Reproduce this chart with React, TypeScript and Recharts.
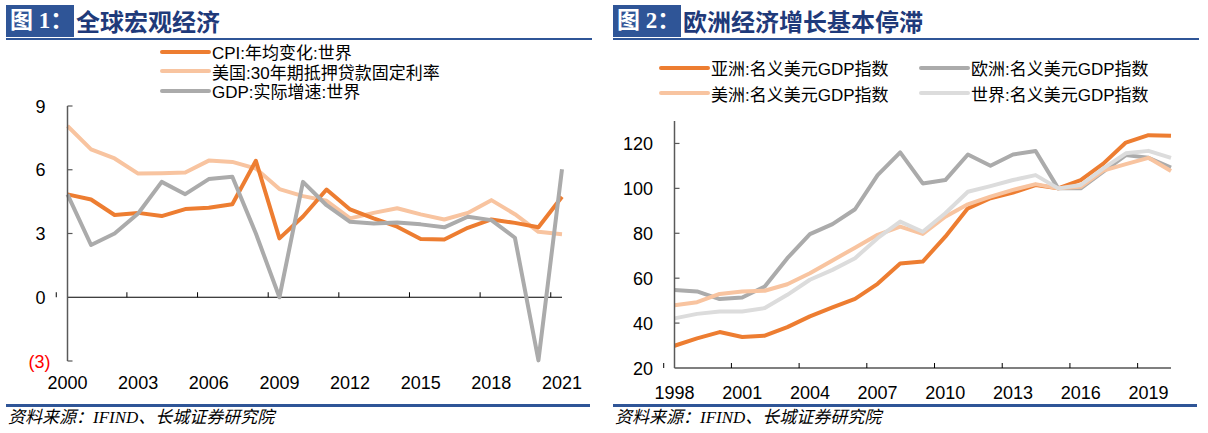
import React from 'react'
import { LineChart, Line, XAxis, YAxis, ReferenceLine, Legend } from 'recharts'

// 图1 全球宏观经济
const years1 = [
  '2000', '2001', '2002', '2003', '2004', '2005', '2006', '2007', '2008', '2009', '2010',
  '2011', '2012', '2013', '2014', '2015', '2016', '2017', '2018', '2019', '2020', '2021',
]
const cpiWorld = [4.84, 4.6, 3.87, 3.97, 3.82, 4.15, 4.21, 4.38, 6.42, 2.77, 3.8, 5.07, 4.13, 3.71, 3.32, 2.74, 2.72, 3.27, 3.66, 3.5, 3.29, 4.73]
const mortgage30 = [8.06, 6.96, 6.53, 5.82, 5.84, 5.87, 6.43, 6.37, 6.06, 5.09, 4.76, 4.54, 3.71, 3.97, 4.19, 3.9, 3.66, 3.97, 4.57, 3.91, 3.08, 2.97]
const gdpWorld = [4.84, 2.46, 3.0, 3.94, 5.43, 4.85, 5.56, 5.67, 3.0, 0, 5.43, 4.33, 3.55, 3.47, 3.52, 3.43, 3.29, 3.79, 3.63, 2.8, -2.97, 6.02]
const yTicks1 = [-3, 0, 3, 6, 9]

// 图2 欧洲经济增长基本停滞
const years2 = [
  '1998', '1999', '2000', '2001', '2002', '2003', '2004', '2005', '2006', '2007', '2008', '2009',
  '2010', '2011', '2012', '2013', '2014', '2015', '2016', '2017', '2018', '2019', '2020',
]
const asiaGdp = [29.9, 33.2, 36.0, 33.8, 34.4, 38.2, 43.0, 47.0, 50.8, 57.5, 66.5, 67.4, 78.5, 91.1, 95.6, 98.1, 101.5, 100, 103.7, 111, 120.4, 123.7, 123.4]
const europeGdp = [54.7, 54.1, 50.7, 51.4, 56.3, 68.9, 79.6, 84.1, 90.7, 105.9, 116, 102.2, 103.7, 115.1, 110.1, 115.1, 116.6, 100, 100, 107.4, 114.8, 113.6, 109.3]
const americaGdp = [47.9, 49.3, 53, 54.1, 54.4, 57.3, 62.2, 67.9, 73.6, 79.3, 83, 79.7, 87.4, 92.9, 96.3, 99.3, 101.9, 100, 100.7, 107.9, 110.8, 113.6, 107.7]
const worldGdp = [42.1, 44.1, 45.2, 45.2, 46.7, 52.6, 59.3, 63.7, 68.9, 77.8, 85.2, 80.7, 88.9, 98.5, 101, 103.7, 105.9, 100, 101.5, 108.9, 115.6, 116.7, 113.6]
const yTicks2 = [20, 40, 60, 80, 100, 120]

const ORANGE = '#ED7D31'
const PEACH = '#F8C4A0'
const GRAY = '#ABABAB'
const LIGHT = '#DCDCDC'
const BLUE = '#2F5597'
const NAVY = '#1F3A7A'
const AXIS = '#595959'

const FONT = "'Liberation Sans', Arial, 'Noto Sans CJK SC', sans-serif"
const SERIF = "'Liberation Serif', 'Times New Roman', 'Noto Sans CJK SC', serif"

const data1 = years1.map((year, i) => ({
  year,
  cpi: cpiWorld[i],
  mortgage: mortgage30[i],
  gdp: gdpWorld[i],
}))

const data2 = years2.map((year, i) => ({
  year,
  asia: asiaGdp[i],
  europe: europeGdp[i],
  america: americaGdp[i],
  world: worldGdp[i],
}))

const legend1 = [
  { name: 'CPI:年均变化:世界', color: ORANGE },
  { name: '美国:30年期抵押贷款固定利率', color: PEACH },
  { name: 'GDP:实际增速:世界', color: GRAY },
]
const legend2 = [
  { name: '亚洲:名义美元GDP指数', color: ORANGE },
  { name: '欧洲:名义美元GDP指数', color: GRAY },
  { name: '美洲:名义美元GDP指数', color: PEACH },
  { name: '世界:名义美元GDP指数', color: LIGHT },
]

// plot geometry of the two charts
const C1 = { w: 600, h: 433, top: 106, bottom: 72, left: 67.5, right: 38 }
const C2 = { w: 603, h: 433, top: 121, bottom: 65, left: 69.5, right: 37 }
const zeroY1 = C1.h - C1.bottom - ((0 - yTicks1[0]) / (yTicks1[4] - yTicks1[0])) * (C1.h - C1.top - C1.bottom)

function LegendRows({ items, columns, rowH, colW }: { items: { name: string; color: string }[]; columns: number; rowH: number; colW: number }) {
  return (
    <div style={{ display: 'grid', gridTemplateColumns: `repeat(${columns}, ${colW}px)`, fontFamily: FONT, fontSize: 17, color: '#000' }}>
      {items.map((it) => (
        <div key={it.name} style={{ display: 'flex', alignItems: 'center', height: rowH, whiteSpace: 'nowrap' }}>
          <svg width={51} height={8} style={{ flex: 'none' }}>
            <line x1={2} x2={49} y1={4} y2={4} stroke={it.color} strokeWidth={4} strokeLinecap="round" />
          </svg>
          <span style={{ marginLeft: 1 }}>{it.name}</span>
        </div>
      ))}
    </div>
  )
}

function makeXTick(markY: number, labelDy: number, band: number) {
  return function XTick(props: any) {
    const { x, y, payload } = props
    const half = payload && typeof payload.offset === 'number' && payload.offset > 0 ? payload.offset : band / 2
    const tx = x - half
    const baseY = markY < 0 ? y : markY
    return (
      <g>
        <line x1={tx} x2={tx} y1={baseY} y2={baseY - 5} stroke="#000" strokeWidth={1} />
        <text x={x} y={y + labelDy} textAnchor="middle" fontSize={18} fontFamily={FONT} fill="#000">
          {payload.value}
        </text>
      </g>
    )
  }
}

function LeftYTick(props: any) {
  const { x, y, payload } = props
  const v = payload.value as number
  const neg = v < 0
  return (
    <g>
      {v !== 0 && <line x1={x} x2={x + 5} y1={y} y2={y} stroke={AXIS} strokeWidth={1.2} />}
      <text x={x - (neg ? 17 : 22)} y={y + 6.5} textAnchor="end" fontSize={18} fontFamily={FONT} fill={neg ? '#FF0000' : '#000'}>
        {neg ? `(${-v})` : v}
      </text>
    </g>
  )
}

function RightYTick(props: any) {
  const { x, y, payload } = props
  return (
    <g>
      {payload.value !== yTicks2[0] && <line x1={x} x2={x + 5} y1={y} y2={y} stroke={AXIS} strokeWidth={1.2} />}
      <text x={x - 21.5} y={y + 6.5} textAnchor="end" fontSize={18} fontFamily={FONT} fill="#000">
        {payload.value}
      </text>
    </g>
  )
}

function TitleBar({ left, num, title }: { left: number; num: string; title: string }) {
  return (
    <>
      <div
        style={{
          position: 'absolute', left, top: 5, width: 68, height: 32, background: BLUE, color: '#fff',
          fontFamily: SERIF, fontWeight: 700, fontSize: 23, lineHeight: '32px', paddingLeft: 4, boxSizing: 'border-box',
        }}
      >
        {num}
      </div>
      <div
        style={{
          position: 'absolute', left: left + 70, top: 5, height: 32, color: NAVY,
          fontFamily: "'Noto Sans CJK SC', sans-serif", fontWeight: 700, fontSize: 24, lineHeight: '32px', whiteSpace: 'nowrap',
        }}
      >
        {title}
      </div>
      <div style={{ position: 'absolute', left, top: 38, width: 586, height: 2, background: BLUE }} />
      <div style={{ position: 'absolute', left, top: 404, width: 584, height: 3, background: BLUE }} />
      <div
        style={{
          position: 'absolute', left: left + 2, top: 408, fontFamily: SERIF, fontStyle: 'italic', fontSize: 17,
          lineHeight: '20px', color: '#000', whiteSpace: 'nowrap',
        }}
      >
        资料来源：IFIND、长城证券研究院
      </div>
    </>
  )
}

const band1 = (C1.w - C1.left - C1.right) / years1.length
const band2 = (C2.w - C2.left - C2.right) / years2.length
const XTick1 = makeXTick(zeroY1, 27.5, band1)
const XTick2 = makeXTick(-1, 30.5, band2)

export default function App() {
  return (
    <div style={{ position: 'absolute', left: 0, top: 0, width: 1208, height: 433, background: '#fff', overflow: 'hidden' }}>
      <TitleBar left={6} num="图 1：" title="全球宏观经济" />
      <TitleBar left={613} num="图 2：" title="欧洲经济增长基本停滞" />

      <div style={{ position: 'absolute', left: 0, top: 0 }}>
        <LineChart
          width={C1.w}
          height={C1.h}
          data={data1}
          margin={{ top: C1.top, right: C1.right, bottom: C1.bottom - 40, left: C1.left - 60 }}
        >
          <XAxis dataKey="year" interval={2} height={40} axisLine={false} tickLine={false} tickSize={0} tickMargin={0} tick={<XTick1 />} />
          <YAxis
            domain={[-3, 9]}
            ticks={yTicks1}
            width={60}
            tickLine={false}
            tickSize={0}
            tickMargin={0}
            axisLine={{ stroke: AXIS, strokeWidth: 1.5 }}
            tick={<LeftYTick />}
          />
          <ReferenceLine y={0} stroke="#000" strokeWidth={1.2} />
          <Line dataKey="mortgage" name={legend1[1].name} stroke={PEACH} strokeWidth={4} dot={false} strokeLinejoin="round" isAnimationActive={false} />
          <Line dataKey="cpi" name={legend1[0].name} stroke={ORANGE} strokeWidth={4} dot={false} strokeLinejoin="round" isAnimationActive={false} />
          <Line dataKey="gdp" name={legend1[2].name} stroke={GRAY} strokeWidth={4} dot={false} strokeLinejoin="round" isAnimationActive={false} />
          <Legend
            layout="vertical"
            align="center"
            verticalAlign="middle"
            wrapperStyle={{ left: 160, top: 42, width: 330 }}
            content={() => <LegendRows items={legend1} columns={1} rowH={19.5} colW={330} />}
          />
        </LineChart>
      </div>

      <div style={{ position: 'absolute', left: 605, top: 0 }}>
        <LineChart
          width={C2.w}
          height={C2.h}
          data={data2}
          margin={{ top: C2.top, right: C2.right, bottom: C2.bottom - 40, left: C2.left - 60 }}
        >
          <XAxis
            dataKey="year"
            interval={2}
            height={40}
            axisLine={{ stroke: '#000', strokeWidth: 1.2 }}
            tickLine={false}
            tickSize={0}
            tickMargin={0}
            tick={<XTick2 />}
          />
          <YAxis
            domain={[20, 130]}
            ticks={yTicks2}
            width={60}
            tickLine={false}
            tickSize={0}
            tickMargin={0}
            axisLine={{ stroke: AXIS, strokeWidth: 1.5 }}
            tick={<RightYTick />}
          />
          <Line dataKey="asia" name={legend2[0].name} stroke={ORANGE} strokeWidth={4} dot={false} strokeLinejoin="round" isAnimationActive={false} />
          <Line dataKey="europe" name={legend2[1].name} stroke={GRAY} strokeWidth={4} dot={false} strokeLinejoin="round" isAnimationActive={false} />
          <Line dataKey="america" name={legend2[2].name} stroke={PEACH} strokeWidth={4} dot={false} strokeLinejoin="round" isAnimationActive={false} />
          <Line dataKey="world" name={legend2[3].name} stroke={LIGHT} strokeWidth={4} dot={false} strokeLinejoin="round" isAnimationActive={false} />
          <Legend
            layout="vertical"
            align="center"
            verticalAlign="middle"
            wrapperStyle={{ left: 54, top: 55, width: 530 }}
            content={() => <LegendRows items={legend2} columns={2} rowH={25.5} colW={260} />}
          />
        </LineChart>
      </div>
    </div>
  )
}
